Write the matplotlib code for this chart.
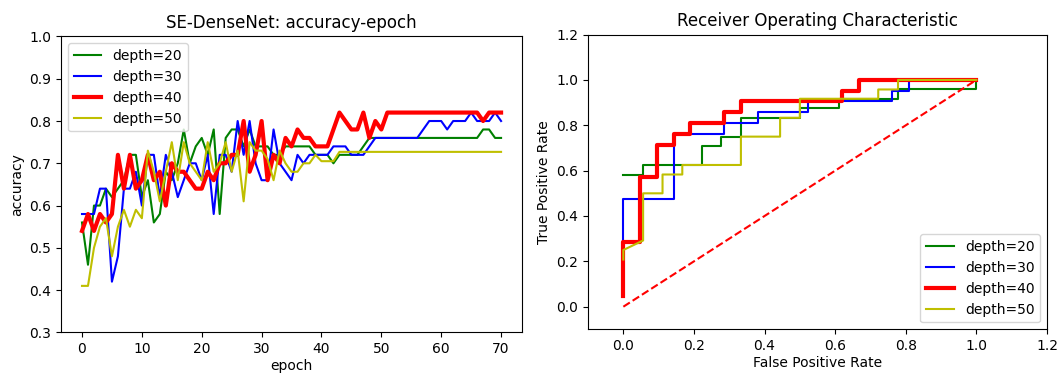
import matplotlib
matplotlib.use("Agg")
import matplotlib.pyplot as plt

# accuracy per epoch (epochs 0..70)
epochs = list(range(71))
acc_d20 = [0.56, 0.46, 0.60, 0.60, 0.64, 0.62, 0.64, 0.66, 0.72, 0.72,
           0.62, 0.66, 0.56, 0.58, 0.68, 0.66, 0.70, 0.78, 0.70, 0.74,
           0.76, 0.72, 0.78, 0.58, 0.76, 0.78, 0.78, 0.74, 0.78, 0.74,
           0.74, 0.74, 0.72, 0.72, 0.74, 0.74, 0.74, 0.74, 0.74, 0.72,
           0.72, 0.72, 0.70, 0.72, 0.72, 0.72, 0.72, 0.74, 0.76, 0.76,
           0.76, 0.76, 0.76, 0.76, 0.76, 0.76, 0.76, 0.76, 0.76, 0.76,
           0.76, 0.76, 0.76, 0.76, 0.76, 0.76, 0.76, 0.78, 0.78, 0.76,
           0.76]
acc_d30 = [0.58, 0.58, 0.58, 0.64, 0.64, 0.42, 0.48, 0.64, 0.64, 0.68,
           0.60, 0.72, 0.72, 0.62, 0.72, 0.68, 0.62, 0.66, 0.70, 0.70,
           0.66, 0.72, 0.58, 0.72, 0.72, 0.68, 0.80, 0.72, 0.80, 0.70,
           0.66, 0.66, 0.78, 0.70, 0.68, 0.66, 0.72, 0.70, 0.72, 0.72,
           0.72, 0.72, 0.74, 0.74, 0.74, 0.72, 0.72, 0.72, 0.74, 0.76,
           0.76, 0.76, 0.76, 0.76, 0.76, 0.76, 0.76, 0.78, 0.80, 0.80,
           0.80, 0.78, 0.80, 0.80, 0.80, 0.82, 0.80, 0.80, 0.80, 0.82,
           0.80]
acc_d40 = [0.54, 0.58, 0.54, 0.58, 0.56, 0.58, 0.72, 0.64, 0.72, 0.64,
           0.66, 0.72, 0.66, 0.68, 0.60, 0.70, 0.68, 0.68, 0.66, 0.64,
           0.64, 0.68, 0.66, 0.70, 0.70, 0.72, 0.72, 0.80, 0.68, 0.72,
           0.80, 0.66, 0.72, 0.70, 0.76, 0.74, 0.78, 0.76, 0.76, 0.74,
           0.74, 0.74, 0.78, 0.82, 0.80, 0.78, 0.78, 0.82, 0.76, 0.80,
           0.78, 0.82, 0.82, 0.82, 0.82, 0.82, 0.82, 0.82, 0.82, 0.82,
           0.82, 0.82, 0.82, 0.82, 0.82, 0.82, 0.82, 0.80, 0.82, 0.82,
           0.82]
acc_d50 = [0.41, 0.41, 0.50, 0.55, 0.57, 0.48, 0.55, 0.59, 0.55, 0.59,
           0.57, 0.73, 0.68, 0.61, 0.68, 0.75, 0.66, 0.75, 0.70, 0.68,
           0.66, 0.75, 0.68, 0.70, 0.75, 0.68, 0.73, 0.61, 0.75, 0.73,
           0.73, 0.71, 0.66, 0.73, 0.70, 0.68, 0.68, 0.70, 0.70, 0.72,
           0.705, 0.705, 0.705, 0.727, 0.727, 0.727, 0.727, 0.727, 0.727, 0.727,
           0.727, 0.727, 0.727, 0.727, 0.727, 0.727, 0.727, 0.727, 0.727, 0.727,
           0.727, 0.727, 0.727, 0.727, 0.727, 0.727, 0.727, 0.727, 0.727, 0.727,
           0.727]

# ROC curves (fpr, tpr)
fpr_d20 = [0, 0.056, 0.056, 0.222, 0.222, 0.278, 0.278, 0.333, 0.333, 0.5, 0.5, 0.611, 0.611, 0.778, 0.778, 1.0, 1.0]
tpr_d20 = [0.583, 0.583, 0.625, 0.625, 0.708, 0.708, 0.75, 0.75, 0.833, 0.833, 0.875, 0.875, 0.917, 0.917, 0.958, 0.958, 1.0]
fpr_d30 = [0, 0, 0.143, 0.143, 0.286, 0.286, 0.381, 0.381, 0.524, 0.524, 0.762, 0.762, 0.810, 0.810, 1.0]
tpr_d30 = [0.286, 0.476, 0.476, 0.762, 0.762, 0.810, 0.810, 0.857, 0.857, 0.905, 0.905, 0.952, 0.952, 1.0, 1.0]
fpr_d40 = [0, 0, 0.048, 0.048, 0.095, 0.095, 0.143, 0.143, 0.190, 0.190, 0.286, 0.286, 0.333, 0.333, 0.619, 0.619, 0.667, 0.667, 1.0]
tpr_d40 = [0.048, 0.286, 0.286, 0.571, 0.571, 0.714, 0.714, 0.762, 0.762, 0.810, 0.810, 0.857, 0.857, 0.905, 0.905, 0.952, 0.952, 1.0, 1.0]
fpr_d50 = [0, 0, 0.056, 0.056, 0.111, 0.111, 0.167, 0.167, 0.333, 0.333, 0.444, 0.444, 0.5, 0.5, 0.722, 0.722, 0.778, 0.778, 1.0]
tpr_d50 = [0.208, 0.25, 0.292, 0.5, 0.5, 0.583, 0.583, 0.625, 0.625, 0.75, 0.75, 0.833, 0.833, 0.917, 0.917, 0.958, 0.958, 1.0, 1.0]

labels = ["depth=20", "depth=30", "depth=40", "depth=50"]

fig = plt.figure(figsize=(10.58, 3.76), dpi=100)

ax1 = fig.add_axes([0.0577, 0.116, 0.4357, 0.787])
ax1.plot(epochs, acc_d20, 'g', lw=1.5, label=labels[0])
ax1.plot(epochs, acc_d30, 'b', lw=1.5, label=labels[1])
ax1.plot(epochs, acc_d40, 'r', lw=3, label=labels[2])
ax1.plot(epochs, acc_d50, 'y', lw=1.5, label=labels[3])
ax1.set_ylim(0.3, 1.0)
ax1.set_title("SE-DenseNet: accuracy-epoch")
ax1.set_xlabel("epoch", labelpad=2)
ax1.set_ylabel("accuracy")
ax1.legend(loc="upper left")

ax2 = fig.add_axes([0.5558, 0.124, 0.4338, 0.784])
ax2.plot(fpr_d20, tpr_d20, 'g', lw=1.5, label=labels[0])
ax2.plot(fpr_d30, tpr_d30, 'b', lw=1.5, label=labels[1])
ax2.plot(fpr_d40, tpr_d40, 'r', lw=3, label=labels[2])
ax2.plot(fpr_d50, tpr_d50, 'y', lw=1.5, label=labels[3])
ax2.plot([0, 1], [0, 1], 'r--')
ax2.set_xlim([-0.1, 1.2])
ax2.set_ylim([-0.1, 1.2])
ax2.set_title("Receiver Operating Characteristic")
ax2.set_xlabel("False Positive Rate", labelpad=2)
ax2.set_ylabel("True Positive Rate")
ax2.legend(loc="lower right")

fig.savefig("out.png", dpi=100)
